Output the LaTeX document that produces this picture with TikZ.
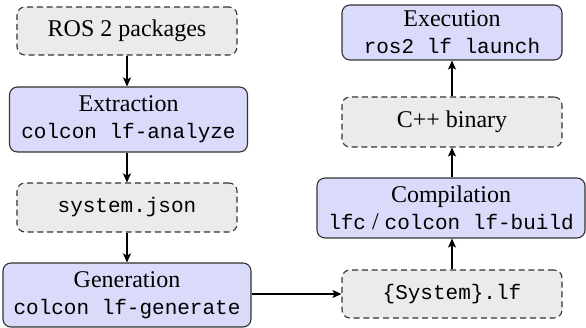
\documentclass[tikz,border=0pt]{standalone}
\usepackage{fontspec}
\setmainfont{Liberation Serif}
\setmonofont{Liberation Mono}
\usetikzlibrary{arrows.meta}
\definecolor{stepblue}{HTML}{DADAFA}
\definecolor{artgray}{HTML}{EBEBEB}
\definecolor{bordergray}{HTML}{333333}
\newcommand{\mytt}[1]{{\fontsize{21}{27}\ttfamily #1}}
\begin{document}
\begin{tikzpicture}[x=1pt,y=-1pt,
  base/.style={rectangle,rounded corners=8pt,inner sep=0pt,align=center,
    font=\fontsize{24}{27}\selectfont,line width=1.1pt},
  stepbox/.style={base,draw=bordergray,fill=stepblue},
  artbox/.style={base,draw=bordergray,fill=artgray,dash pattern=on 6pt off 3.8pt},
  flow/.style={-{Stealth[length=9pt,width=8pt,inset=2pt]},line width=1.3pt}]
\useasboundingbox (0,0) rectangle (586,328);
\node[artbox,minimum width=220pt,minimum height=48pt] (ros) at (127,31) {ROS 2 packages};
\node[stepbox,minimum width=238pt,minimum height=65pt] (extr) at (128.5,119.5) {Extraction\\\mytt{colcon lf-analyze}};
\node[artbox,minimum width=220pt,minimum height=49pt] (sysj) at (127,207.5) {\mytt{system.json}};
\node[stepbox,minimum width=248pt,minimum height=64pt] (gen) at (127,295) {Generation\\\mytt{colcon lf-generate}};
\node[stepbox,minimum width=220pt,minimum height=55pt] (exec) at (452,32.5) {Execution\\\mytt{ros2 lf launch}};
\node[artbox,minimum width=220pt,minimum height=50pt] (cpp) at (452,122) {C++ binary};
\node[stepbox,minimum width=268pt,minimum height=60pt] (comp) at (451,208) {Compilation\\\mytt{lfc} / \mytt{colcon lf-build}};
\node[artbox,minimum width=220pt,minimum height=48pt] (lf) at (452,294) {\mytt{\{System\}.lf}};
\draw[flow] (ros.south) -- (ros.south |- extr.north);
\draw[flow] (ros.south |- extr.south) -- (ros.south |- sysj.north);
\draw[flow] (sysj.south) -- (sysj.south |- gen.north);
\draw[flow] (gen.east |- lf.west) -- (lf.west);
\draw[flow] (lf.north) -- (lf.north |- comp.south);
\draw[flow] (lf.north |- comp.north) -- (cpp.south);
\draw[flow] (cpp.north) -- (exec.south);
\end{tikzpicture}
\end{document}
